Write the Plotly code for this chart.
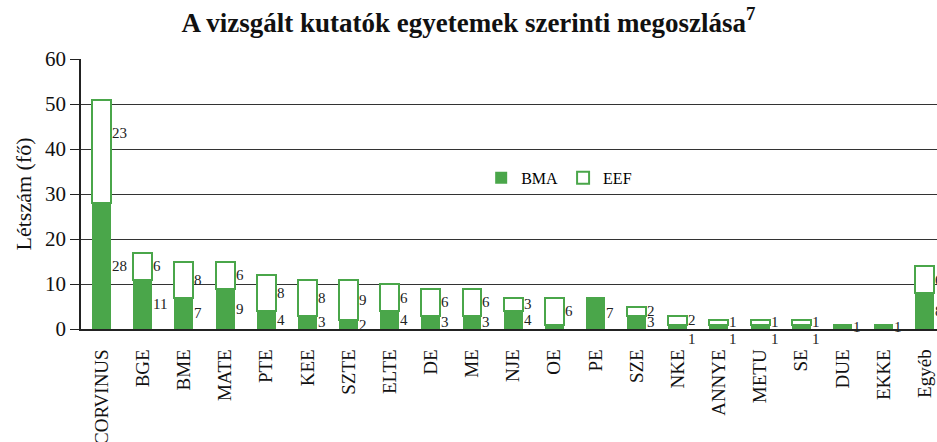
import plotly.graph_objects as go

categories = ["CORVINUS", "BGE", "BME", "MATE", "PTE", "KEE", "SZTE", "ELTE", "DE", "ME",
              "NJE", "OE", "PE", "SZE", "NKE", "ANNYE", "METU", "SE", "DUE", "EKKE", "Egyéb"]
bma = [28, 11, 7, 9, 4, 3, 2, 4, 3, 3, 4, 1, 7, 3, 1, 1, 1, 1, 1, 1, 8]
eef = [23, 6, 8, 6, 8, 8, 9, 6, 6, 6, 3, 6, 0, 2, 2, 1, 1, 1, 0, 0, 6]
# BMA label not printed for OE in the source
bma_hidden = ["OE"]

GREEN = "#4aa64a"
SERIF = "Liberation Serif"

xs = list(range(len(categories)))
half = 0.23

fig = go.Figure()
fig.add_trace(go.Bar(x=xs, y=bma, name="BMA", width=2 * half,
                     marker=dict(color=GREEN, line=dict(width=0))))
fig.add_trace(go.Bar(x=xs, y=eef, name="EEF", width=2 * half,
                     marker=dict(color="white", line=dict(color=GREEN, width=2))))

# value labels to the right of each segment
label_font = dict(family=SERIF, size=15, color="#222")
for i, (c, b, e) in enumerate(zip(categories, bma, eef)):
    if b and c not in bma_hidden:
        if b <= 1 and e > 0:
            # small BMA segment under an EEF segment: label sits just below the axis
            fig.add_annotation(x=i + half, y=0, text=str(b), showarrow=False,
                               xanchor="left", yanchor="top", xshift=-1, yshift=0,
                               font=label_font)
        else:
            fig.add_annotation(x=i + half, y=b / 2, text=str(b), showarrow=False,
                               xanchor="left", yanchor="middle", xshift=-1, font=label_font)
    if e:
        fig.add_annotation(x=i + half, y=b + e / 2 + (4 if e > 15 else 0),
                           text=str(e), showarrow=False, xanchor="left", yanchor="middle",
                           xshift=-1, font=label_font)

fig.update_layout(
    width=937, height=442,
    margin=dict(l=81, r=0, t=59, b=113),
    paper_bgcolor="white", plot_bgcolor="white",
    barmode="stack", bargap=0,
    title=dict(text="<b>A vizsgált kutatók egyetemek szerinti megoszlása<sup>7</sup></b>",
               x=0.5, xref="container", xanchor="center",
               y=0.95, yref="container", yanchor="middle",
               font=dict(family=SERIF, size=27, color="#111")),
    font=dict(family=SERIF, color="black"),
    legend=dict(orientation="h", x=0.4675, y=0.56, xanchor="left", yanchor="middle",
                font=dict(family=SERIF, size=16, color="black"), bgcolor="rgba(0,0,0,0)",
                traceorder="normal", itemwidth=30),
    xaxis=dict(tickmode="array", tickvals=xs, ticktext=categories, range=[-0.5, 20.3],
               tickangle=-90, tickfont=dict(family=SERIF, size=19, color="#111"),
               showgrid=False, showline=True, linecolor="#222", linewidth=1.5,
               ticks="", ticklabelstandoff=11, zeroline=False, automargin=False),
    yaxis=dict(range=[0, 60], tickvals=[0, 10, 20, 30, 40, 50, 60],
               tickfont=dict(family=SERIF, size=21, color="#111"),
               showgrid=True, gridcolor="#333", gridwidth=1.3,
               showline=True, linecolor="#222", linewidth=1.5,
               ticks="outside", ticklen=9, tickcolor="#222", tickwidth=1.3,
               zeroline=False, automargin=False,
               title=dict(text="Létszám (fő)", font=dict(family=SERIF, size=22, color="#111"),
                          standoff=7)),
)

fig.write_html("out.html", config={"displayModeBar": False},
               post_script="document.body.style.margin='0';document.body.style.overflow='hidden';")
